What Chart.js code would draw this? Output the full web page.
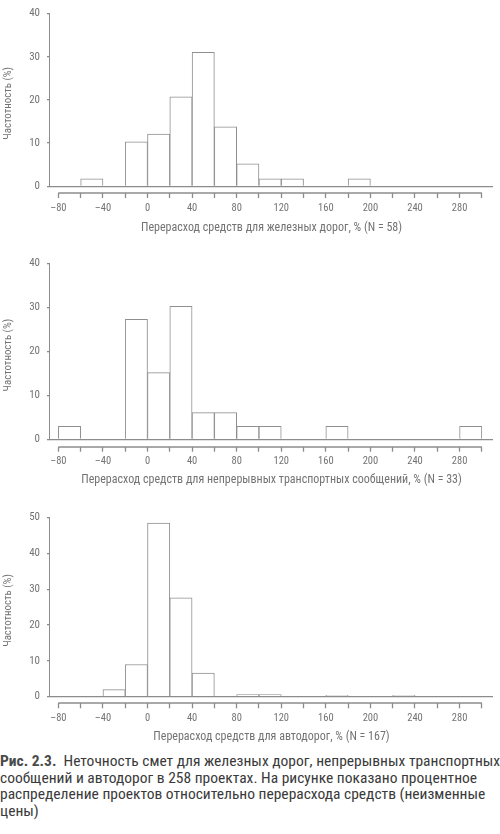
<!DOCTYPE html>
<html><head><meta charset="utf-8">
<script src="https://cdn.jsdelivr.net/npm/chart.js@4"></script>
<style>
body{margin:0;background:#fff;width:500px;height:834px;position:relative;overflow:hidden}
.box{position:absolute;left:0;width:500px}
#caption{position:absolute;left:0;top:753px;width:500px;font-family:'Roboto Condensed','DejaVu Sans Condensed',sans-serif;font-size:15.5px;line-height:16.6px;color:#3a3a3a;white-space:nowrap}
#caption b{color:#4a4a4a}
</style></head><body>
<div class="box" style="top:0;height:240px"><canvas id="c1"></canvas></div>
<div class="box" style="top:250px;height:240px"><canvas id="c2"></canvas></div>
<div class="box" style="top:490px;height:260px"><canvas id="c3"></canvas></div>
<div id="caption"><b>Рис. 2.3.</b>&nbsp; Неточность смет для железных дорог, непрерывных транспортных<br>сообщений и автодорог в 258 проектах. На рисунке показано процентное<br>распределение проектов относительно перерасхода средств (неизменные<br>цены)</div>
<script>
// ---- data ----
const binWidth = 20;
const railBins = [-60, -20, 0, 20, 40, 60, 80, 100, 120, 180];
const railPct  = [1.7, 10.3, 12.1, 20.7, 31.0, 13.8, 5.2, 1.7, 1.7, 1.7];
const linkBins = [-80, -20, 0, 20, 40, 60, 80, 100, 160, 280];
const linkPct  = [3.0, 27.3, 15.2, 30.3, 6.1, 6.1, 3.0, 3.0, 3.0, 3.0];
const roadBins = [-40, -20, 0, 20, 40, 80, 100, 160, 220];
const roadPct  = [2.0, 9.0, 48.5, 27.6, 6.6, 0.6, 0.6, 0.4, 0.4];
const xTickValues = [-80,-60,-40,-20,0,20,40,60,80,100,120,140,160,180,200,220,240,260,280,300];
const xTickLabels = ['–80','','–40','','0','','40','','80','','120','','160','','200','','240','','280',''];
const yTicks40 = [0, 10, 20, 30, 40];
const yTicks50 = [0, 10, 20, 30, 40, 50];
const railTitle = 'Перерасход средств для железных дорог, % (N = 58)';
const linkTitle = 'Перерасход средств для непрерывных транспортных сообщений, % (N = 33)';
const roadTitle = 'Перерасход средств для автодорог, % (N = 167)';
const yTitle = 'Частотность (%)';

// ---- styles ----
const FONT = "'Roboto Condensed','DejaVu Sans Condensed',sans-serif";
const TXT = '#737373';
const LINE = '#8c8c8c';
const BAR = '#8f8f8f';

const axisLines = {
  id: 'axisLines',
  afterDatasetsDraw(chart) {
    const {ctx, chartArea, scales: {x, y}} = chart;
    ctx.save();
    ctx.strokeStyle = LINE; ctx.lineWidth = 1;
    const lx = Math.round(chartArea.left) - 0.5;
    ctx.beginPath();
    ctx.moveTo(lx, y.getPixelForValue(0));
    ctx.lineTo(lx, y.getPixelForValue(y.max));
    ctx.stroke();
    ctx.lineWidth = 1.6;
    const by = Math.round(chartArea.bottom);
    ctx.beginPath();
    ctx.moveTo(x.getPixelForValue(xTickValues[0]), by);
    ctx.lineTo(x.getPixelForValue(xTickValues[xTickValues.length - 1]), by);
    ctx.stroke();
    ctx.restore();
  }
};

function makeChart(id, bins, pct, title, yTicks, lay) {
  const data = bins.map((b, i) => ({x: b + binWidth / 2, y: pct[i]}));
  return new Chart(document.getElementById(id), {
    type: 'bar',
    data: {datasets: [{data, backgroundColor: '#ffffff', borderColor: BAR, borderWidth: 1,
      barPercentage: 1, categoryPercentage: 1}]},
    plugins: [axisLines],
    options: {
      responsive: true, maintainAspectRatio: false, animation: false,
      layout: {padding: {top: lay.top, right: 7, left: 0, bottom: 0}},
      plugins: {legend: {display: false}, tooltip: {enabled: false}},
      scales: {
        x: {
          type: 'linear', min: -87.5, max: 310, offset: false,
          afterBuildTicks: s => { s.ticks = xTickValues.map(v => ({value: v})); },
          afterFit: s => { s.height = lay.xh; },
          border: {display: false},
          grid: {display: true, offset: false, drawOnChartArea: false, drawTicks: true, tickLength: 5, tickColor: LINE, tickWidth: 1.3},
          ticks: {autoSkip: false, maxRotation: 0, padding: 3.7, color: TXT, font: {family: FONT, size: 10.5},
            callback: (v) => xTickLabels[xTickValues.indexOf(v)] ?? ''},
          title: {display: true, text: title, color: TXT, font: {family: FONT, size: 12}, padding: {top: 0, bottom: lay.tpb}}
        },
        y: {
          min: lay.ymin, max: yTicks[yTicks.length - 1],
          afterBuildTicks: s => { s.ticks = yTicks.map(v => ({value: v})); },
          afterFit: s => { s.width = 50; },
          border: {display: false},
          grid: {display: true, drawTicks: true, tickLength: 3, tickColor: LINE,
            color: c => (c.tick && c.tick.value === 0) ? LINE : 'rgba(0,0,0,0)', lineWidth: 1.3},
          ticks: {padding: 7, color: TXT, font: {family: FONT, size: 11}},
          title: {display: true, text: yTitle, color: TXT, font: {family: FONT, size: 10.8}, padding: {top: 1.5, bottom: 0}}
        }
      }
    }
  });
}

makeChart('c1', railBins, railPct, railTitle, yTicks40, {top: 6, xh: 47, tpb: 4.8, ymin: -1.556});
makeChart('c2', linkBins, linkPct, linkTitle, yTicks40, {top: 10, xh: 43.3, tpb: 2.8, ymin: -1.65});
makeChart('c3', roadBins, roadPct, roadTitle, yTicks50, {top: 27.7, xh: 46.7, tpb: 5.8, ymin: -1.84});
</script>
</body></html>
